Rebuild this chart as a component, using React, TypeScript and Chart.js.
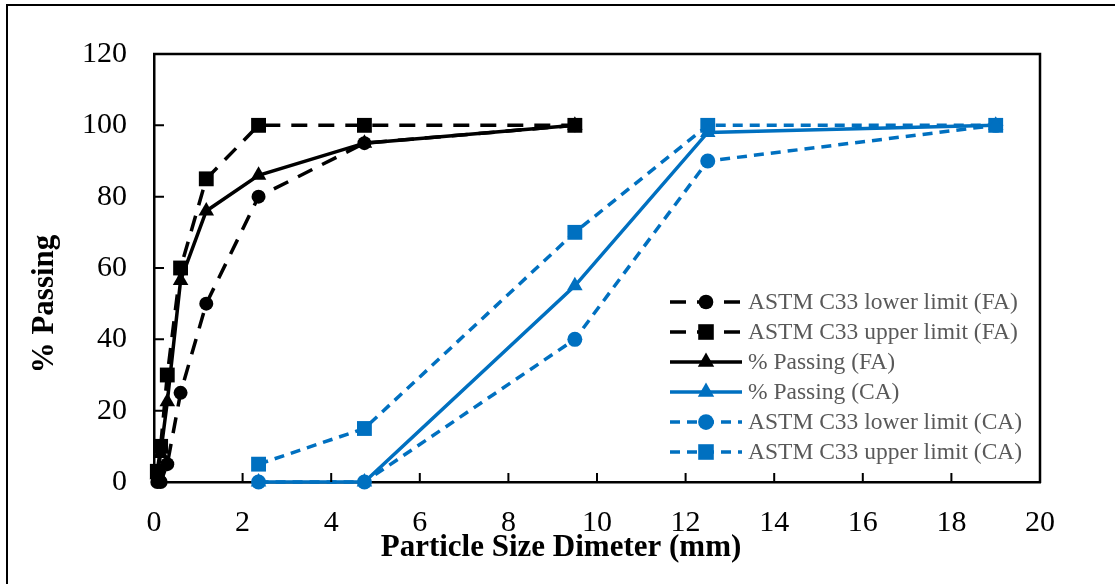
import React, { useEffect, useRef } from "react";
import { Chart, registerables } from "chart.js";

Chart.register(...registerables);

// ---- Data ----
const faSizes = [0.075, 0.15, 0.3, 0.6, 1.18, 2.36, 4.75, 9.5];
const faLower = [0, 0, 5, 25, 50, 80, 95, 100];
const faUpper = [3, 10, 30, 60, 85, 100, 100, 100];
const faPassing = [2, 8, 22.5, 56.5, 76, 86, 95, 100];

const caSizes = [2.36, 4.75, 9.5, 12.5, 19];
const caPassing = [0, 0, 55, 98, 100];
const caLower = [0, 0, 40, 90, 100];
const caUpper = [5, 15, 70, 100, 100];

const xTickValues = [0, 2, 4, 6, 8, 10, 12, 14, 16, 18, 20];
const yTickValues = [0, 20, 40, 60, 80, 100, 120];

const seriesLabels = [
  "ASTM C33 lower limit (FA)",
  "ASTM C33 upper limit (FA)",
  "% Passing (FA)",
  "% Passing (CA)",
  "ASTM C33 lower limit (CA)",
  "ASTM C33 upper limit (CA)",
];

const xTitle = "Particle Size Dimeter (mm)";
const yTitle = "% Passing";

const BLACK = "#000000";
const BLUE = "#0070C0";

const toPoints = (xs: number[], ys: number[]) => xs.map((x, i) => ({ x, y: ys[i] }));

const decorPlugin = {
  id: "decor",
  afterDraw(chart: any) {
    const ctx = chart.ctx as CanvasRenderingContext2D;
    const area = chart.chartArea;
    const xs = chart.scales.x;
    const ys = chart.scales.y;
    ctx.save();

    // outer frame (left + top)
    ctx.strokeStyle = "#000";
    ctx.lineWidth = 2;
    ctx.setLineDash([]);
    ctx.beginPath();
    ctx.moveTo(7, 584);
    ctx.lineTo(7, 5);
    ctx.lineTo(1115, 5);
    ctx.stroke();

    // plot box top + right
    ctx.lineWidth = 2.5;
    ctx.beginPath();
    ctx.moveTo(area.left - 1, area.top);
    ctx.lineTo(area.right, area.top);
    ctx.lineTo(area.right, area.bottom + 1);
    ctx.stroke();

    // inside tick marks
    ctx.lineWidth = 2;
    ctx.beginPath();
    yTickValues.forEach((v) => {
      const py = ys.getPixelForValue(v);
      ctx.moveTo(area.left, py);
      ctx.lineTo(area.left + 10, py);
    });
    xTickValues.forEach((v) => {
      const px = xs.getPixelForValue(v);
      ctx.moveTo(px, area.bottom);
      ctx.lineTo(px, area.bottom - 9);
    });
    ctx.stroke();

    // axis titles
    ctx.fillStyle = "#000";
    ctx.font = 'bold 31px "Liberation Serif"';
    ctx.textAlign = "center";
    ctx.textBaseline = "middle";
    ctx.fillText(xTitle, 561, 548);
    ctx.save();
    ctx.translate(45, 304);
    ctx.rotate(-Math.PI / 2);
    ctx.fillText(yTitle, 0, 0);
    ctx.restore();

    // legend
    const x0 = 670;
    const x1 = 742;
    const rowY0 = 302;
    const rowH = 30;
    chart.data.datasets.forEach((ds: any, i: number) => {
      const y = rowY0 + i * rowH;
      ctx.save();
      ctx.strokeStyle = ds.borderColor;
      ctx.lineWidth = ds.borderWidth;
      ctx.setLineDash(ds.borderDash || []);
      ctx.lineDashOffset = 0;
      ctx.beginPath();
      ctx.moveTo(x0, y);
      ctx.lineTo(x1, y);
      ctx.stroke();
      ctx.setLineDash([]);
      ctx.restore();
      ctx.save();
      ctx.fillStyle = ds.pointBackgroundColor;
      const r = ds.pointRadius * 1.05;
      const cx = (x0 + x1) / 2;
      ctx.beginPath();
      if (ds.pointStyle === "circle") {
        ctx.arc(cx, y, r, 0, Math.PI * 2);
      } else if (ds.pointStyle === "rect") {
        const s = r * Math.SQRT1_2;
        ctx.rect(cx - s, y - s, 2 * s, 2 * s);
      } else {
        ctx.moveTo(cx, y - r);
        ctx.lineTo(cx + r * Math.sin((Math.PI / 3) * 2), y + r * 0.5);
        ctx.lineTo(cx - r * Math.sin((Math.PI / 3) * 2), y + r * 0.5);
        ctx.closePath();
      }
      ctx.fill();
      ctx.restore();
      ctx.fillStyle = "#595959";
      ctx.font = '23.5px "Liberation Serif"';
      ctx.textAlign = "left";
      ctx.textBaseline = "middle";
      ctx.fillText(ds.label, 748, y + 1);
    });

    ctx.restore();
  },
};

export default function App() {
  const canvasRef = useRef<HTMLCanvasElement | null>(null);

  useEffect(() => {
    document.body.style.margin = "0";
    const canvas = canvasRef.current;
    if (!canvas) return;

    const common = { showLine: true, clip: false as any, pointBorderWidth: 0, tension: 0 };

    const chart = new Chart(canvas, {
      type: "scatter",
      data: {
        datasets: [
          {
            ...common,
            label: seriesLabels[0],
            data: toPoints(faSizes, faLower),
            borderColor: BLACK,
            borderWidth: 3.5,
            borderDash: [16, 11],
            pointStyle: "circle",
            pointRadius: 7,
            pointBackgroundColor: BLACK,
            pointBorderColor: BLACK,
          },
          {
            ...common,
            label: seriesLabels[1],
            data: toPoints(faSizes, faUpper),
            borderColor: BLACK,
            borderWidth: 3.5,
            borderDash: [16, 11],
            pointStyle: "rect",
            pointRadius: 10.5,
            pointBackgroundColor: BLACK,
            pointBorderColor: BLACK,
          },
          {
            ...common,
            label: seriesLabels[2],
            data: toPoints(faSizes, faPassing),
            borderColor: BLACK,
            borderWidth: 3.5,
            pointStyle: "triangle",
            pointRadius: 9,
            pointBackgroundColor: BLACK,
            pointBorderColor: BLACK,
          },
          {
            ...common,
            label: seriesLabels[3],
            data: toPoints(caSizes, caPassing),
            borderColor: BLUE,
            borderWidth: 3.5,
            pointStyle: "triangle",
            pointRadius: 9,
            pointBackgroundColor: BLUE,
            pointBorderColor: BLUE,
          },
          {
            ...common,
            label: seriesLabels[4],
            data: toPoints(caSizes, caLower),
            borderColor: BLUE,
            borderWidth: 3.5,
            borderDash: [10, 7],
            pointStyle: "circle",
            pointRadius: 7.5,
            pointBackgroundColor: BLUE,
            pointBorderColor: BLUE,
          },
          {
            ...common,
            label: seriesLabels[5],
            data: toPoints(caSizes, caUpper),
            borderColor: BLUE,
            borderWidth: 3.5,
            borderDash: [10, 7],
            pointStyle: "rect",
            pointRadius: 10.5,
            pointBackgroundColor: BLUE,
            pointBorderColor: BLUE,
          },
        ],
      },
      options: {
        responsive: false,
        animation: false,
        layout: { padding: { left: 0, right: 75, top: 54, bottom: 0 } },
        plugins: {
          legend: { display: false },
          tooltip: { enabled: false },
        },
        scales: {
          x: {
            type: "linear",
            min: 0,
            max: 20,
            afterBuildTicks: (s: any) => {
              s.ticks = xTickValues.map((v) => ({ value: v }));
            },
            afterFit: (s: any) => {
              s.height = 102;
            },
            grid: { display: false, drawTicks: false },
            border: { display: true, color: "#000", width: 2.5 },
            ticks: {
              color: "#000",
              font: { family: "Liberation Serif", size: 30 },
              padding: 23,
              maxRotation: 0,
            },
          },
          y: {
            type: "linear",
            min: 0,
            max: 120,
            afterBuildTicks: (s: any) => {
              s.ticks = yTickValues.map((v) => ({ value: v }));
            },
            afterFit: (s: any) => {
              s.width = 154;
            },
            grid: { display: false, drawTicks: false },
            border: { display: true, color: "#000", width: 2.5 },
            ticks: {
              color: "#000",
              font: { family: "Liberation Serif", size: 30 },
              padding: 27,
            },
          },
        },
      },
      plugins: [decorPlugin],
    });

    return () => chart.destroy();
  }, []);

  return (
    <div style={{ width: 1115, height: 584, background: "#fff" }}>
      <canvas ref={canvasRef} width={1115} height={584} style={{ display: "block" }} />
    </div>
  );
}
